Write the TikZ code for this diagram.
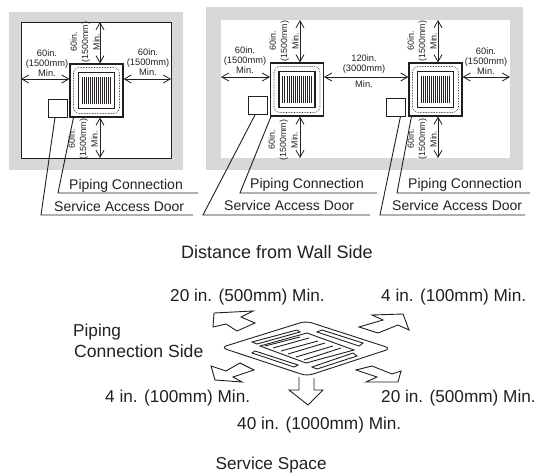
\documentclass[tikz,border=0pt]{standalone}
\usepackage{fontspec}
\setmainfont{Liberation Sans}
\usetikzlibrary{arrows.meta}
\definecolor{wallgray}{RGB}{214,216,217}
\definecolor{ink}{RGB}{35,31,32}
\tikzset{
 x=1pt,y=-1pt,
 ink line/.style={draw=ink,line width=0.9pt},
 dim/.style={draw=ink,line width=0.9pt,{Straight Barb[length=7pt,width=8pt,line width=.8pt]}-{Straight Barb[length=7pt,width=8pt,line width=.8pt]}},
 small/.style={font=\fontsize{9.3}{10}\selectfont,text=ink,inner sep=0pt,align=center},
 smallrot/.style={font=\fontsize{8.9}{11.3}\selectfont,text=ink,inner sep=0pt,align=center,rotate=90},
 big/.style={font=\fontsize{14}{15}\selectfont,text=ink,inner sep=0pt,anchor=west},
 huge label/.style={font=\fontsize{17.2}{18}\selectfont,text=ink,inner sep=0pt,anchor=west},
 door/.style={draw=ink,line width=0.8pt,fill=white,minimum width=19pt,minimum height=18pt,inner sep=0pt},
 unitbox/.style={draw=ink,line width=1.1pt,minimum width=53pt,minimum height=53pt,inner sep=0pt},
 wing/.style={draw=ink,line width=0.9pt,fill=white,line join=miter},
 pics/unit/.style={code={
   \node[unitbox] (-box) at (0,0) {};
   \draw[ink,line width=.6pt,densely dotted,rounded corners=6pt] (-23,-23) rectangle (23,23);
   \draw[ink,line width=1.1pt] (-18,-18) rectangle (18,18);
   \foreach \i in {0,...,14}{\draw[ink,line width=.7pt] (-14.2+\i*2.03,-13.5) -- (-14.2+\i*2.03,13.5);}
 }}
}
\begin{document}
\begin{tikzpicture}
\useasboundingbox (0,0) rectangle (536,474);
% rooms
\fill[wallgray] (9,12) rectangle (183,170);
\fill[white] (21,22) rectangle (171,158);
\draw[ink,line width=.8pt] (21,22) rectangle (171,158);
\fill[wallgray] (206,7) rectangle (523,170);
\fill[white] (221,20) rectangle (510,158);
% left unit
\pic (a) at (96.5,90.5) {unit};
\node[door] (adoor) at (57.5,108) {};
\coordinate (awl) at (21,79);\coordinate (awr) at (171,79);
\coordinate (awt) at (100,22);\coordinate (awb) at (100,158);
\draw[dim] (awl) -- (awl -| a-box.west);
\draw[dim] (a-box.east |- awr) -- (awr);
\draw[dim] (awt) -- (awt |- a-box.north);
\draw[dim] (awb |- a-box.south) -- (awb);
\node[small] (a1) at (47,63) {60in.\\(1500mm)\\Min.};
\node[small] (a2) at (148,62) {60in.\\(1500mm)\\Min.};
\node[smallrot] (a3) at (85,42) {60in.\\(1500mm)\\Min.};
\node[smallrot] (a4) at (83,139) {60in.\\(1500mm)\\Min.};
% right units
\pic (b) at (297,89.5) {unit};
\pic (c) at (435.5,89.5) {unit};
\node[door] (bdoor) at (257.5,105.5) {};
\node[door] (cdoor) at (395.5,107) {};
\coordinate (bwl) at (221,77);\coordinate (cwr) at (510,77);
\coordinate (bwt) at (300,20);\coordinate (bwb) at (300,158);
\coordinate (cwt) at (438,20);\coordinate (cwb) at (438,158);
\draw[dim] (bwl) -- (bwl -| b-box.west);
\draw[dim] (b-box.east |- bwl) -- (c-box.west |- bwl);
\draw[dim] (c-box.east |- cwr) -- (cwr);
\draw[dim] (bwt) -- (bwt |- b-box.north);
\draw[dim] (bwb |- b-box.south) -- (bwb);
\draw[dim] (cwt) -- (cwt |- c-box.north);
\draw[dim] (cwb |- c-box.south) -- (cwb);
\node[small] (b1) at (245,60) {60in.\\(1500mm)\\Min.};
\node[small] (b2) at (364,64) {120in.\\(3000mm)};
\node[small] (b3) at (364,84) {Min.};
\node[small] (c1) at (486,61) {60in.\\(1500mm)\\Min.};
\node[smallrot] (b4) at (284,41) {60in.\\(1500mm)\\Min.};
\node[smallrot] (b5) at (283,140) {60in.\\(1500mm)\\Min.};
\node[smallrot] (c2) at (422,41) {60in.\\(1500mm)\\Min.};
\node[smallrot] (c3) at (422,139) {60in.\\(1500mm)\\Min.};
% leaders
\coordinate (ap1) at (58,193);\coordinate (ap2) at (198,193);
\coordinate (as1) at (41,215);\coordinate (as2) at (193,215);
\coordinate (bp1) at (240,193);\coordinate (bp2) at (377,193);
\coordinate (bs1) at (203,215);\coordinate (bs2) at (370,215);
\coordinate (cp1) at (397,193);\coordinate (cp2) at (530,193);
\coordinate (cs1) at (380,215);\coordinate (cs2) at (525,215);
\draw[ink line] ([xshift=4pt]a-box.south west) -- (ap1) -- (ap2);
\draw[ink line] ([xshift=-2.5pt]adoor.south) -- (as1) -- (as2);
\draw[ink line] ([xshift=1pt]b-box.south west) -- (bp1) -- (bp2);
\draw[ink line] ([xshift=-2.5pt]bdoor.south) -- (bs1) -- (bs2);
\draw[ink line] ([xshift=3pt]c-box.south west) -- (cp1) -- (cp2);
\draw[ink line] ([xshift=5pt]cdoor.south) -- (cs1) -- (cs2);
\node[big] (t1) at (69,186) {Piping Connection};
\node[big] (t2) at (54,206) {Service Access Door};
\node[big] (t3) at (250,184.5) {Piping Connection};
\node[big] (t4) at (224,205) {Service Access Door};
\node[big] (t5) at (408,184.5) {Piping Connection};
\node[big] (t6) at (392,205) {Service Access Door};
% headings
\node[huge label,font=\fontsize{18}{18}\selectfont] (h1) at (181,252) {Distance from Wall Side};
\node[huge label] (h2) at (215.5,465) {Service Space};
\node[huge label] (l1) at (170,297) {20 in. (500mm) Min.};
\node[huge label] (l2) at (381,297) {4 in. (100mm) Min.};
\node[huge label] (l3) at (73,332) {Piping};
\node[huge label,font=\fontsize{17.6}{18}\selectfont] (l4) at (74,351) {Connection Side};
\node[huge label] (l5) at (105,398) {4 in. (100mm) Min.};
\node[huge label] (l6) at (381,398) {20 in. (500mm) Min.};
\node[huge label] (l7) at (237,425) {40 in. (1000mm) Min.};
% ceiling panel
\draw[ink line,rounded corners=6pt] (221,347.5) -- (306,321) -- (391,348.5) -- (307,376) -- cycle;
\draw[ink line] (260,346) -- (307,333) -- (354,350) -- (306,363) -- cycle;
\draw[ink line] (252,342) -- (297,330) -- (300,332) -- (257,344) -- cycle;
\draw[ink line] (317,332) -- (322,330) -- (363,343) -- (359,346) -- cycle;
\draw[ink line] (252,353) -- (255,351) -- (298,365) -- (294,367) -- cycle;
\draw[ink line] (312,367) -- (353,353) -- (357,356) -- (317,369) -- cycle;
\draw[ink line] (265,346) -- (300,337);
\draw[ink line] (273,348) -- (309,338);
\draw[ink line] (281,351) -- (318,341);
\draw[ink line] (288,354) -- (325,343);
\draw[ink line] (296,357) -- (333,346);
\draw[ink line] (304,360) -- (341,348);
% wings
\draw[wing] (214,313) -- (253,311) -- (241,317) -- (255,323) -- (237,331) -- (226,324) -- (213,327) -- cycle;
\draw[wing] (211,366) -- (226,371) -- (240,363) -- (254,370) -- (233,377) -- (242,382) -- (215,380) -- cycle;
\draw[wing] (372,315) -- (403,314) -- (409,330) -- (398,325) -- (378,333) -- (359,327) -- (383,320) -- cycle;
\draw[wing] (356,370) -- (372,366) -- (392,374) -- (401,371) -- (398,382) -- (366,382) -- (377,377) -- cycle;
\draw[wing] (299,377) -- (299,390) -- (289,390) -- (308,405) -- (323,390) -- (314,390) -- (314,378);
\end{tikzpicture}
\end{document}
